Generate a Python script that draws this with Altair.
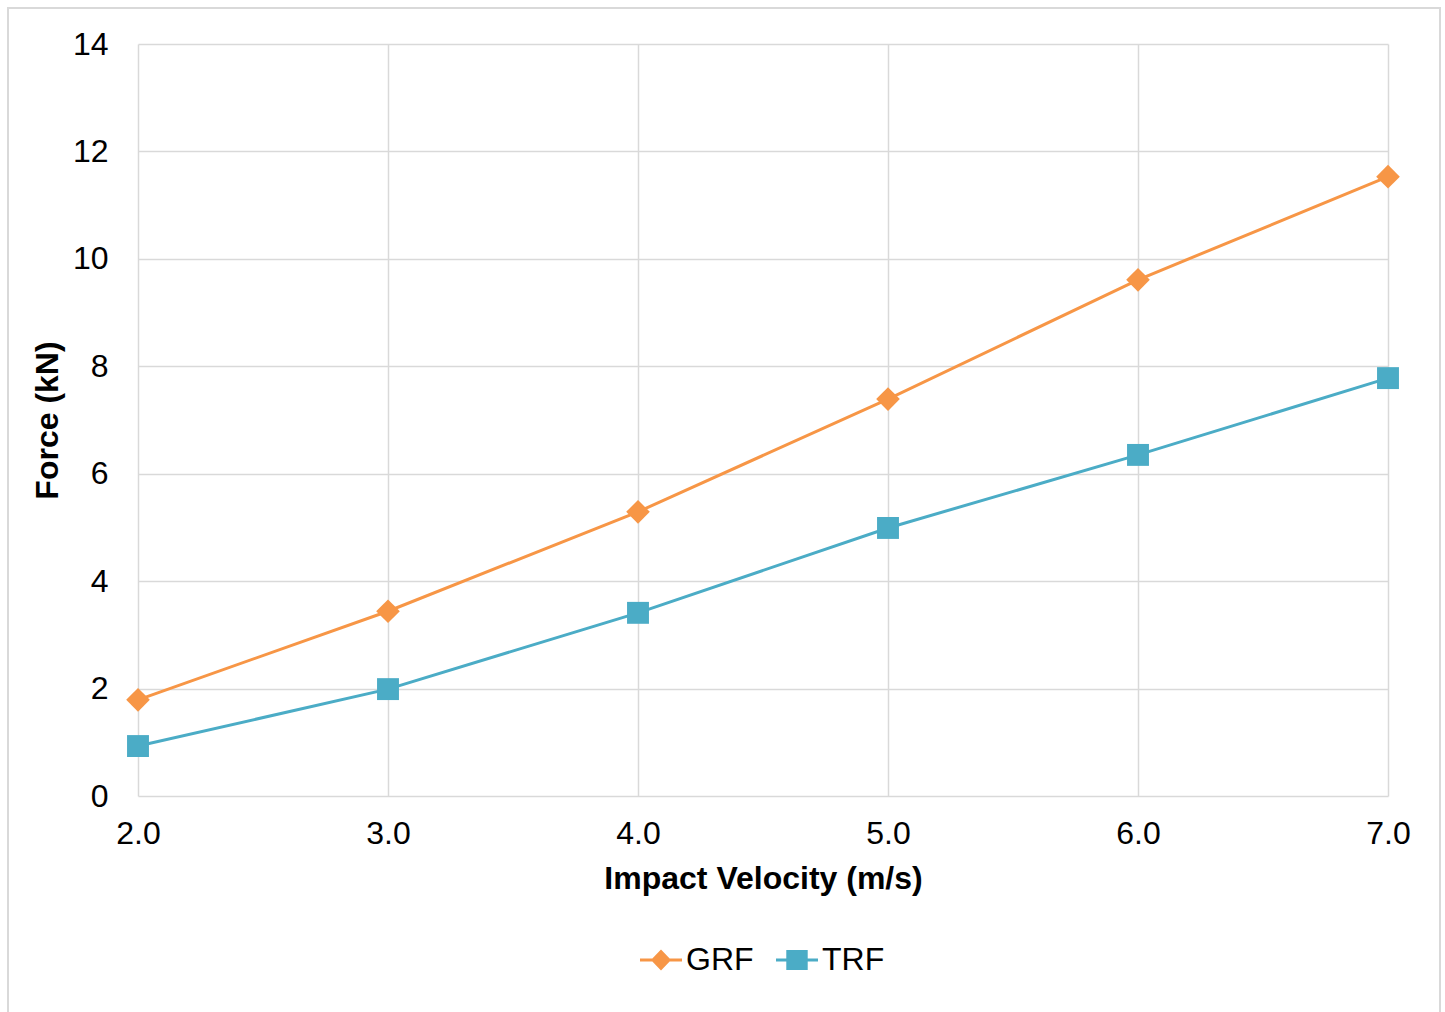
import altair as alt
import pandas as pd

velocity = [2.0, 3.0, 4.0, 5.0, 6.0, 7.0]
grf = [1.79, 3.44, 5.29, 7.39, 9.61, 11.53]
trf = [0.93, 1.99, 3.41, 4.99, 6.35, 7.78]
series_names = ["GRF", "TRF"]
colors = ["#F79646", "#4BACC6"]
marker_sizes = [560, 480]
x_ticks = [2.0, 3.0, 4.0, 5.0, 6.0, 7.0]
y_ticks = [0, 2, 4, 6, 8, 10, 12, 14]

rows = []
for v, g, t in zip(velocity, grf, trf):
    rows.append({"Velocity": v, "Force": g, "Series": "GRF"})
    rows.append({"Velocity": v, "Force": t, "Series": "TRF"})
df = pd.DataFrame(rows)

FONT = "Liberation Sans"

x = alt.X("Velocity:Q",
          scale=alt.Scale(domain=[2, 7], nice=False),
          axis=alt.Axis(title="Impact Velocity (m/s)", values=x_ticks, format=".1f",
                        labelFontSize=32, titleFontSize=32, labelFont=FONT, titleFont=FONT,
                        titleFontWeight="bold", labelColor="#000000", titleColor="#000000",
                        ticks=False, tickSize=0, domain=False, labelPadding=22, titlePadding=14,
                        labelFlush=False, labelOverlap=False, labelBound=False,
                        gridColor="#d9d9d9", gridWidth=1.5))
y = alt.Y("Force:Q",
          scale=alt.Scale(domain=[0, 14], nice=False),
          axis=alt.Axis(title="Force (kN)", values=y_ticks,
                        labelFontSize=32, titleFontSize=32, labelFont=FONT, titleFont=FONT,
                        titleFontWeight="bold", labelColor="#000000", titleColor="#000000",
                        ticks=False, tickSize=0, domain=False, labelPadding=30, titlePadding=8,
                        labelFlush=False, labelOverlap=False,
                        gridColor="#d9d9d9", gridWidth=1.5))

cscale = alt.Scale(domain=series_names, range=colors)

lines = alt.Chart(df).mark_line(strokeWidth=3).encode(
    x=x, y=y,
    color=alt.Color("Series:N", scale=cscale, legend=None),
    detail="Series:N",
)

points = alt.Chart(df).mark_point(filled=True, opacity=1).encode(
    x=x, y=y,
    color=alt.Color("Series:N", scale=cscale, legend=None),
    shape=alt.Shape("Series:N", scale=alt.Scale(domain=series_names, range=["diamond", "square"]), legend=None),
    size=alt.Size("Series:N", scale=alt.Scale(domain=series_names, range=marker_sizes), legend=None),
)

grf_path = "M-1,-0.07L1,-0.07L1,0.07L-1,0.07Z M-0.48,0L0,-0.5L0.48,0L0,0.5Z"
trf_path = "M-1,-0.07L1,-0.07L1,0.07L-1,0.07Z M-0.51,-0.48L0.51,-0.48L0.51,0.48L-0.51,0.48Z"

legend_props = dict(orient="none", legendX=502, legendY=895, direction="horizontal", title=None,
                    labelFontSize=32, labelFont=FONT, labelColor="#000000",
                    symbolSize=1764, symbolStrokeWidth=0,
                    labelOffset=4, columnPadding=22)

legend_layer = alt.Chart(df).mark_point(filled=True, opacity=1, size=1764).encode(
    x=x, y=y,
    color=alt.Color("Series:N", scale=cscale, legend=alt.Legend(**legend_props)),
    shape=alt.Shape("Series:N", scale=alt.Scale(domain=series_names, range=[grf_path, trf_path]),
                    legend=alt.Legend(**legend_props)),
).transform_filter("datum.Force > 1000")

border = alt.Chart(pd.DataFrame({"a": [0]})).mark_rect(
    filled=False, fill=None, stroke="#d9d9d9", strokeWidth=2, clip=False
).encode(x=alt.value(-130), x2=alt.value(1302), y=alt.value(-36), y2=alt.value(1000))

chart = alt.layer(border, lines, points, legend_layer).resolve_scale(
    color="independent", shape="independent", size="independent"
).properties(
    width=1250, height=752,
    autosize=alt.AutoSizeParams(type="none"),
    padding={"left": 138, "top": 44, "right": 57, "bottom": 216},
    background="white",
).configure_view(stroke=None)

chart.save("out.html", embed_options={"renderer": "svg", "actions": False})
